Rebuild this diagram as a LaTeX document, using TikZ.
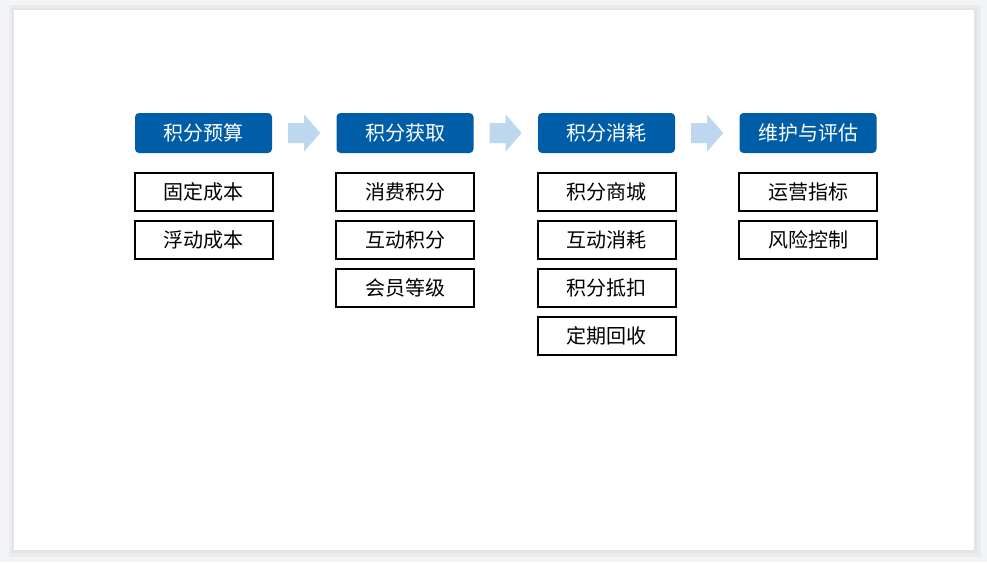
\documentclass[tikz,border=0pt]{standalone}
\usepackage{fontspec}
\newfontfamily\cjk{Noto Sans CJK SC}
\usetikzlibrary{positioning,calc}
\definecolor{headblue}{RGB}{0,94,168}
\definecolor{flowblue}{RGB}{189,215,238}
\definecolor{pagegray}{RGB}{243,244,246}
\definecolor{shadegray}{RGB}{226,227,230}
\begin{document}
\begin{tikzpicture}[x=1pt,y=-1pt,
    head/.style = {fill=headblue, rounded corners=4pt, text=white, minimum width=137pt, minimum height=40pt, inner sep=0pt, font=\cjk\fontsize{20}{24}\selectfont},
    item/.style = {draw, line width=2pt, minimum width=138pt, minimum height=38pt, inner sep=0pt, font=\cjk\fontsize{20}{24}\selectfont},
    flow/.style = {fill=flowblue}]
    % page and slide
    \fill[pagegray] (0,0) rectangle (987,562);
    \fill[shadegray, opacity=0.5] (9,5) rectangle (981,557);
    \fill[shadegray] (12,8) rectangle (977,553);
    \fill[white] (14,10) rectangle (974,550);
    % headers
    \node[head] (budget) at (203.5,133) {积分预算};
    \node[head] (gain) at (405,133) {积分获取};
    \node[head] (spend) at (606.5,133) {积分消耗};
    \node[head] (review) at (808,133) {维护与评估};
    % items
    \node[item] (fixed) [below=19pt of budget] {固定成本};
    \node[item] (float) [below=8pt of fixed] {浮动成本};
    \node[item] (consume) [below=19pt of gain] {消费积分};
    \node[item] (interact) [below=8pt of consume] {互动积分};
    \node[item] (member) [below=8pt of interact] {会员等级};
    \node[item] (mall) [below=19pt of spend] {积分商城};
    \node[item] (use) [below=8pt of mall] {互动消耗};
    \node[item] (deduct) [below=8pt of use] {积分抵扣};
    \node[item] (recycle) [below=8pt of deduct] {定期回收};
    \node[item] (ops) [below=19pt of review] {运营指标};
    \node[item] (risk) [below=8pt of ops] {风险控制};
    % arrows
    \fill[flow] ($(budget.east)+(16,-10)$) -- ++(16,0) -- ++(0,-8.5) -- ++(16,18.5) -- ++(-16,18.5) -- ++(0,-8.5) -- ++(-16,0) -- cycle;
    \fill[flow] ($(gain.east)+(16,-10)$) -- ++(16,0) -- ++(0,-8.5) -- ++(16,18.5) -- ++(-16,18.5) -- ++(0,-8.5) -- ++(-16,0) -- cycle;
    \fill[flow] ($(spend.east)+(16,-10)$) -- ++(16,0) -- ++(0,-8.5) -- ++(16,18.5) -- ++(-16,18.5) -- ++(0,-8.5) -- ++(-16,0) -- cycle;
\end{tikzpicture}
\end{document}
